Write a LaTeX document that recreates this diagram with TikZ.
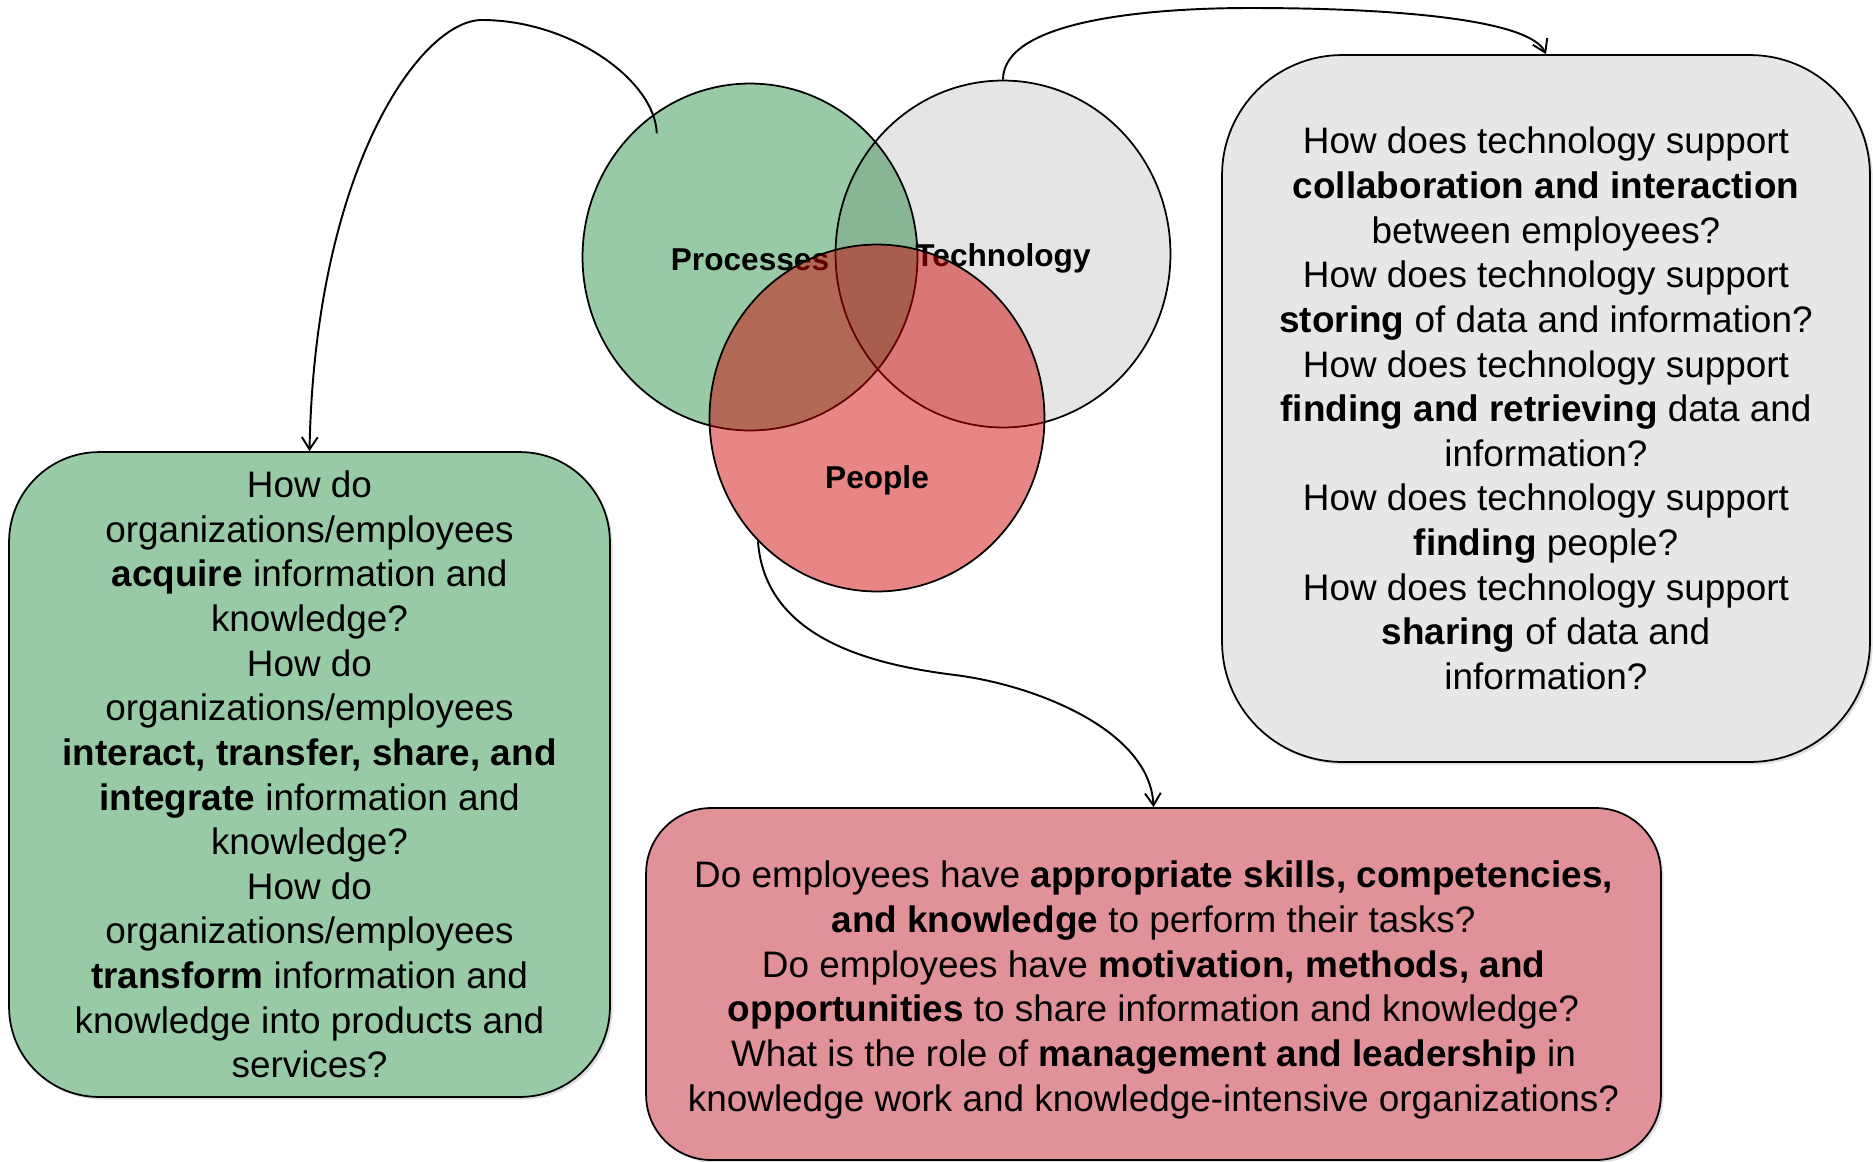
\documentclass[tikz,border=0pt]{standalone}
\usepackage{fontspec}
\setmainfont{Liberation Sans}
\usetikzlibrary{calc,shapes.geometric,arrows.meta,shadows}
\definecolor{procgreen}{RGB}{152,203,165}
\definecolor{techgray}{RGB}{231,231,231}
\definecolor{peoplered}{RGB}{206,0,0}
\definecolor{boxred}{RGB}{224,146,152}

\begin{document}
\begin{tikzpicture}[x=.02cm,y=-.02cm,
	vennfont/.style={font=\fontsize{18}{21}\selectfont\bfseries},
	venn/.style={ellipse,draw,line width=1pt,minimum width=6.7cm,minimum height=6.94cm,inner sep=0pt},
	qtext/.style={align=center,font=\fontsize{21}{25.4}\selectfont},
	qbox/.style={draw,line width=1pt,qtext,
		drop shadow={opacity=.25,shadow xshift=1.5pt,shadow yshift=-1.5pt}},
	link/.style={line width=1.1pt,-{Straight Barb[length=7pt,width=9pt]}}]
	\useasboundingbox (0,0) rectangle (1873,1161);
	% the three circles
	\node[venn,fill=procgreen] (proc) at (750,257) {};
	\node[venn,fill=black,fill opacity=.1] (tech) at (1003,254) {};
	\node[vennfont] (proclabel) at (750,260) {Processes};
	\node[vennfont] (techlabel) at (1003,258) {Technology};
	\node[venn,fill=peoplered,fill opacity=.48] (people) at (877,418) {};
	\node[vennfont] (peoplelabel) at (877,480) {People};
	% question boxes
	\node[qbox,fill=procgreen,rounded corners=1.8cm,minimum width=12.02cm,minimum height=12.9cm] (procbox) at (309.5,774.5) {How do\\
		organizations/employees\\
		\textbf{acquire} information and\\
		knowledge?\\
		How do\\
		organizations/employees\\
		\textbf{interact, transfer, share, and}\\
		\textbf{integrate} information and\\
		knowledge?\\
		How do\\
		organizations/employees\\
		\textbf{transform} information and\\
		knowledge into products and\\
		services?};
	\node[qbox,fill=techgray,rounded corners=2.4cm,minimum width=12.96cm,minimum height=14.14cm] (techbox) at (1546,408.5) {How does technology support\\
		\textbf{collaboration and interaction}\\
		between employees?\\
		How does technology support\\
		\textbf{storing} of data and information?\\
		How does technology support\\
		\textbf{finding and retrieving} data and\\
		information?\\
		How does technology support\\
		\textbf{finding} people?\\
		How does technology support\\
		\textbf{sharing} of data and\\
		information?};
	\node[qbox,fill=boxred,rounded corners=1.3cm,minimum width=20.3cm,minimum height=7.04cm] (peoplebox) at (1153.5,984) {};
	\node[qtext] (peopletext) at (1153.5,990) {Do employees have \textbf{appropriate skills, competencies,}\\
		\textbf{and knowledge} to perform their tasks?\\
		Do employees have \textbf{motivation, methods, and}\\
		\textbf{opportunities} to share information and knowledge?\\
		What is the role of \textbf{management and leadership} in\\
		knowledge work and knowledge-intensive organizations?};
	% links
	\coordinate (procstart) at ($(proc.center)!.9!(proc.127)$);
	\draw[link] (procstart) .. controls (655,80) and (570,20) .. (482,20) .. controls (420,20) and (315,170) .. (procbox.north);
	\draw[link] (tech.north) .. controls (1003,20) and (1150,8) .. (1250,8) .. controls (1400,8) and (1530,20) .. (techbox.north);
	\draw[link] (people.226) .. controls (765,640) and (875,665) .. (955,675) .. controls (1035,685) and (1150,730) .. (peoplebox.north);
\end{tikzpicture}
\end{document}
